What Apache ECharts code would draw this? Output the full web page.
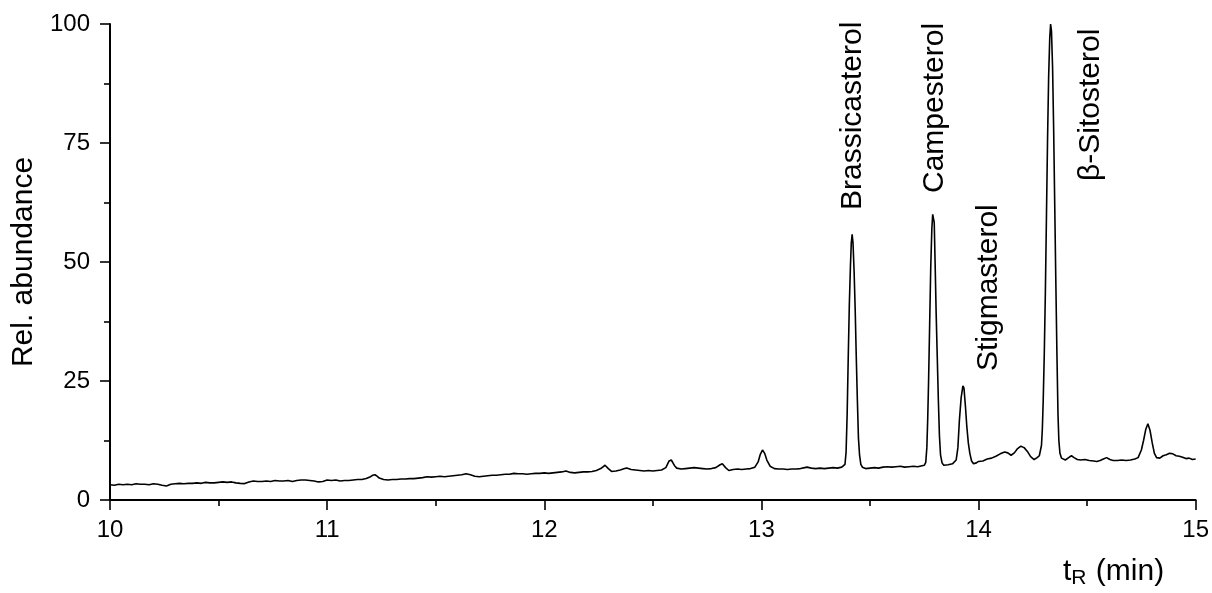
<!DOCTYPE html>
<html>
<head>
<meta charset="utf-8">
<title>Sterol chromatogram</title>
<script src="https://cdn.jsdelivr.net/npm/echarts@6/dist/echarts.min.js"></script>
<style>
  html, body { margin: 0; padding: 0; background: #fff; }
  #chart { width: 1212px; height: 593px; }
</style>
</head>
<body>
<div id="chart"></div>
<script>
// retention time (min) / relative abundance
const chromatogram = [
  [10.00, 3.2], [10.02, 3.1], [10.04, 3.3], [10.06, 3.2], [10.08, 3.3], [10.10, 3.2],
  [10.12, 3.4], [10.14, 3.3], [10.16, 3.3], [10.18, 3.2], [10.20, 3.4], [10.22, 3.3],
  [10.24, 3.1], [10.26, 2.95], [10.28, 3.3], [10.30, 3.4], [10.32, 3.5], [10.34, 3.4],
  [10.36, 3.5], [10.38, 3.5], [10.40, 3.6], [10.42, 3.5], [10.44, 3.7], [10.46, 3.6],
  [10.48, 3.6], [10.50, 3.7], [10.52, 3.8], [10.54, 3.7], [10.56, 3.8], [10.58, 3.6],
  [10.60, 3.5], [10.62, 3.45], [10.64, 3.8], [10.66, 4.0], [10.68, 3.9], [10.70, 3.9],
  [10.72, 4.0], [10.74, 3.9], [10.76, 4.1], [10.78, 4.0], [10.80, 4.0], [10.82, 4.1],
  [10.84, 3.9], [10.86, 4.1], [10.88, 4.2], [10.90, 4.2], [10.92, 4.1], [10.94, 4.0],
  [10.96, 3.8], [10.98, 3.9], [11.00, 4.2], [11.02, 4.1], [11.04, 4.2], [11.06, 4.0],
  [11.08, 4.1], [11.10, 4.1], [11.12, 4.2], [11.14, 4.3], [11.16, 4.3], [11.18, 4.5],
  [11.20, 4.9], [11.21, 5.2], [11.22, 5.3], [11.23, 5.0], [11.24, 4.6], [11.26, 4.3],
  [11.28, 4.2], [11.30, 4.3], [11.32, 4.3], [11.34, 4.4], [11.36, 4.4], [11.38, 4.5],
  [11.40, 4.5], [11.42, 4.6], [11.44, 4.7], [11.46, 4.9], [11.48, 4.8], [11.50, 4.9],
  [11.52, 5.0], [11.54, 4.9], [11.56, 5.0], [11.58, 5.1], [11.60, 5.2], [11.62, 5.3],
  [11.64, 5.5], [11.66, 5.3], [11.68, 5.0], [11.70, 4.9], [11.72, 5.0], [11.74, 5.1],
  [11.76, 5.2], [11.78, 5.2], [11.80, 5.3], [11.82, 5.4], [11.84, 5.4], [11.86, 5.6],
  [11.88, 5.5], [11.90, 5.5], [11.92, 5.4], [11.94, 5.5], [11.96, 5.6], [11.98, 5.6],
  [12.00, 5.7], [12.02, 5.6], [12.04, 5.7], [12.06, 5.8], [12.08, 5.9], [12.10, 6.1],
  [12.12, 5.8], [12.14, 5.7], [12.16, 5.8], [12.18, 5.9], [12.20, 5.9], [12.22, 6.0],
  [12.24, 6.2], [12.26, 6.6], [12.28, 7.3], [12.295, 6.6], [12.31, 6.0], [12.33, 6.1],
  [12.35, 6.3], [12.37, 6.6], [12.38, 6.7], [12.40, 6.4], [12.42, 6.3], [12.44, 6.2],
  [12.46, 6.1], [12.48, 6.2], [12.50, 6.1], [12.52, 6.2], [12.54, 6.3], [12.56, 6.8],
  [12.575, 8.2], [12.585, 8.4], [12.60, 7.2], [12.61, 6.7], [12.63, 6.5], [12.65, 6.6],
  [12.67, 6.7], [12.69, 6.8], [12.71, 6.7], [12.73, 6.6], [12.75, 6.5], [12.77, 6.6],
  [12.79, 6.8], [12.81, 7.4], [12.82, 7.6], [12.835, 6.8], [12.85, 6.2], [12.87, 6.4],
  [12.89, 6.5], [12.91, 6.4], [12.93, 6.5], [12.95, 6.6], [12.97, 6.9], [12.985, 8.0],
  [12.995, 9.6], [13.005, 10.5], [13.015, 9.8], [13.025, 8.4], [13.04, 7.1], [13.06, 6.6],
  [13.08, 6.5], [13.10, 6.5], [13.12, 6.4], [13.14, 6.5], [13.16, 6.5], [13.18, 6.6],
  [13.20, 6.8], [13.21, 6.9], [13.23, 6.7], [13.25, 6.6], [13.27, 6.7], [13.29, 6.6],
  [13.31, 6.7], [13.33, 6.8], [13.35, 6.7], [13.37, 6.9],
  // Brassicasterol
  [13.385, 7.5], [13.390, 10], [13.395, 18], [13.400, 30], [13.405, 41], [13.410, 49],
  [13.414, 54], [13.418, 55.8], [13.422, 54], [13.427, 48], [13.432, 40], [13.437, 30],
  [13.442, 21], [13.447, 13], [13.452, 9.5], [13.458, 7.5], [13.465, 6.9],
  [13.48, 6.6], [13.50, 6.7], [13.52, 6.8], [13.54, 6.7], [13.56, 6.9], [13.58, 7.0],
  [13.60, 6.9], [13.62, 7.0], [13.64, 7.1], [13.66, 6.9], [13.68, 7.0], [13.70, 7.1],
  [13.72, 7.0], [13.74, 7.2],
  // Campesterol
  [13.750, 7.3], [13.757, 7.9], [13.762, 11], [13.766, 17], [13.770, 25], [13.775, 37],
  [13.780, 49], [13.785, 57], [13.789, 60], [13.793, 59], [13.796, 58.3], [13.800, 50],
  [13.805, 39], [13.810, 30], [13.815, 21], [13.820, 13.5], [13.825, 9.5], [13.832, 7.8],
  [13.840, 7.3], [13.86, 7.4], [13.88, 7.6],
  // Stigmasterol
  [13.897, 8.4], [13.905, 11], [13.912, 16.8], [13.920, 21.5], [13.928, 24], [13.933, 23.5],
  [13.940, 19.5], [13.946, 15.5], [13.953, 12], [13.960, 9.8], [13.968, 8.2], [13.977, 7.6],
  [13.99, 7.8], [14.00, 8.1], [14.02, 8.2], [14.04, 8.6], [14.06, 8.8], [14.08, 9.2],
  [14.10, 9.7], [14.12, 10.1], [14.135, 9.9], [14.15, 9.4], [14.165, 9.9], [14.18, 10.8],
  [14.195, 11.3], [14.21, 11.0], [14.225, 10.2], [14.24, 9.1], [14.256, 8.5], [14.27, 8.9],
  [14.28, 9.3],
  // beta-Sitosterol
  [14.285, 9.4], [14.290, 11.5], [14.294, 15], [14.298, 21], [14.303, 31], [14.308, 44],
  [14.313, 60], [14.318, 76], [14.323, 89], [14.328, 97], [14.332, 100], [14.336, 98.5],
  [14.341, 91], [14.346, 78], [14.351, 62], [14.356, 46], [14.361, 31], [14.366, 18],
  [14.370, 12.5], [14.375, 9.8], [14.382, 8.8],
  [14.40, 8.4], [14.415, 8.9], [14.428, 9.3], [14.44, 8.9], [14.455, 8.5], [14.47, 8.4],
  [14.49, 8.5], [14.51, 8.3], [14.53, 8.2], [14.545, 8.1], [14.56, 8.3], [14.575, 8.6],
  [14.59, 8.9], [14.605, 8.5], [14.62, 8.3], [14.64, 8.3], [14.66, 8.4], [14.68, 8.3],
  [14.70, 8.4], [14.72, 8.6], [14.735, 8.9], [14.75, 10.5], [14.76, 12.5], [14.77, 14.8],
  [14.78, 16.0], [14.79, 14.6], [14.80, 12.0], [14.81, 9.8], [14.82, 8.9], [14.835, 8.8],
  [14.85, 9.3], [14.865, 9.5], [14.88, 9.8], [14.895, 9.7], [14.91, 9.3], [14.925, 9.2],
  [14.94, 9.0], [14.955, 8.7], [14.97, 8.8], [14.985, 8.5], [15.00, 8.6]
]

// peak names, and where each vertical label starts (time, abundance)
const peakNames = ['Brassicasterol', 'Campesterol', 'Stigmasterol', 'β-Sitosterol']
const peakLabelTime = [13.42, 13.80, 14.05, 14.52]
const peakLabelBase = [61, 64.5, 27, 67]

const xTicks = [10, 11, 12, 13, 14, 15]
const yTicks = [0, 25, 50, 75, 100]

const FONT = '"Liberation Sans", Arial, sans-serif'

const chart = echarts.init(document.getElementById('chart'))

const option = {
  backgroundColor: '#fff',
  animation: false,
  grid: {
    left: 110,
    right: 16,
    top: 24,
    bottom: 93
  },
  xAxis: {
    type: 'value',
    min: xTicks[0],
    max: xTicks[xTicks.length - 1],
    interval: 1,
    axisLine: { lineStyle: { color: '#000', width: 2 } },
    axisTick: { inside: false, length: 10, lineStyle: { color: '#000', width: 1.6 } },
    minorTick: { show: true, splitNumber: 2, length: 6, lineStyle: { color: '#000', width: 1.6 } },
    splitLine: { show: false },
    axisLabel: {
      color: '#000',
      fontSize: 24,
      fontFamily: FONT,
      margin: 18
    }
  },
  yAxis: {
    type: 'value',
    min: yTicks[0],
    max: yTicks[yTicks.length - 1],
    interval: 25,
    name: 'Rel. abundance',
    nameLocation: 'middle',
    nameGap: 68,
    nameTextStyle: { color: '#000', fontSize: 30, fontFamily: FONT },
    axisLine: { show: true, lineStyle: { color: '#000', width: 2 } },
    axisTick: { show: true, length: 10, lineStyle: { color: '#000', width: 1.6 } },
    minorTick: { show: true, splitNumber: 2, length: 6, lineStyle: { color: '#000', width: 1.6 } },
    splitLine: { show: false },
    axisLabel: {
      color: '#000',
      fontSize: 24,
      fontFamily: FONT,
      margin: 20
    }
  },
  series: [
    {
      name: 'trace',
      type: 'line',
      data: chromatogram,
      showSymbol: false,
      symbol: 'none',
      smooth: false,
      lineStyle: { color: '#000', width: 1.6 },
      silent: true
    }
  ]
}

chart.setOption(option)

// vertical peak names: placed through the grid's own scales, snapped to whole pixels
const peakGraphics = peakNames.map((name, i) => {
  const pt = chart.convertToPixel({ gridIndex: 0 }, [peakLabelTime[i], peakLabelBase[i]])
  return {
    type: 'text',
    x: Math.round(pt[0]),
    y: Math.round(pt[1]),
    rotation: Math.PI / 2,
    silent: true,
    style: {
      x: 0,
      y: 0,
      text: name,
      fill: '#000',
      font: '30px ' + FONT,
      align: 'left',
      verticalAlign: 'middle'
    }
  }
})

chart.setOption({
  graphic: peakGraphics.concat([
    {
      type: 'text',
      left: 1063,
      top: 557,
      silent: true,
      style: {
        text: 't{sub|R} (min)',
        fill: '#000',
        font: '30px ' + FONT,
        rich: {
          sub: { fontSize: 21, fontFamily: FONT, fill: '#000', padding: [12, 1, 0, 0] }
        }
      }
    }
  ])
})
</script>
</body>
</html>
